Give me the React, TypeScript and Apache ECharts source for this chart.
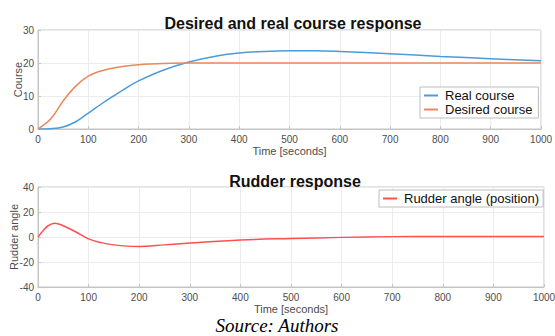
import React, { useEffect, useRef } from "react";
import * as echarts from "echarts";

const courseTime = [0, 25, 50, 75, 100, 125, 150, 175, 200, 250, 300, 350, 400, 450, 500, 550, 600, 700, 800, 900, 1000];
const realCourse = [0, 0.1, 0.6, 2.2, 4.8, 7.5, 10, 12.4, 14.6, 17.9, 20.3, 22, 23, 23.5, 23.7, 23.7, 23.5, 22.8, 22, 21.3, 20.7];
const desiredCourse = [0, 3, 8.5, 13, 16, 17.6, 18.5, 19.1, 19.5, 19.85, 20, 20, 20, 20, 20, 20, 20, 20, 20, 20, 20];

const rudderTime = [0, 10, 20, 33, 50, 75, 100, 125, 150, 175, 200, 250, 300, 400, 500, 600, 700, 800, 900, 1000];
const rudderAngle = [0, 5, 9, 11, 9, 4, -1.5, -4.5, -6.3, -7.3, -7.5, -6.3, -4.8, -2.4, -1.2, -0.3, 0.3, 0.5, 0.5, 0.5];

const xTicks = [0, 100, 200, 300, 400, 500, 600, 700, 800, 900, 1000];

const pair = (xs: number[], ys: number[]) => xs.map((x, i) => [x, ys[i]]);

const axisText = {
  color: "#4d4d4d",
  fontSize: 10,
  fontFamily: "Liberation Sans",
  formatter: (v: number) => String(v),
};

const makeX = (gridIndex: number) => ({
  type: "value",
  gridIndex,
  min: xTicks[0],
  max: xTicks[xTicks.length - 1],
  interval: 100,
  name: "Time [seconds]",
  nameLocation: "middle",
  nameGap: 16,
  nameTextStyle: { color: "#4d4d4d", fontSize: 11, fontFamily: "Liberation Sans" },
  axisLine: { show: true, onZero: false, lineStyle: { color: "#c4c4c4" } },
  axisTick: { show: true, inside: true, length: 3, lineStyle: { color: "#c4c4c4" } },
  axisLabel: { ...axisText, margin: 5 },
  splitLine: { show: true, lineStyle: { color: "#ececec" } },
});

const makeY = (gridIndex: number, min: number, max: number, interval: number, name: string, gap: number) => ({
  type: "value",
  gridIndex,
  min,
  max,
  interval,
  name,
  nameLocation: "middle",
  nameGap: gap,
  nameMoveOverlap: false,
  nameTextStyle: { color: "#4d4d4d", fontSize: 11, fontFamily: "Liberation Sans" },
  axisLine: { show: true, onZero: false, lineStyle: { color: "#c4c4c4" } },
  axisTick: { show: true, inside: true, length: 3, lineStyle: { color: "#c4c4c4" } },
  axisLabel: { ...axisText, margin: 4 },
  splitLine: { show: true, lineStyle: { color: "#ececec" } },
});

export default function App() {
  const ref = useRef<HTMLDivElement>(null);
  useEffect(() => {
    if (!ref.current) return;
    const chart = echarts.init(ref.current, undefined, { renderer: "svg" });
    chart.setOption({
      animation: false,
      backgroundColor: "#ffffff",
      title: [
        {
          text: "Desired and real course response",
          left: 288,
          top: 10,
          textAlign: "center",
          textStyle: { fontSize: 16, fontWeight: "bold", color: "#111", fontFamily: "Liberation Sans" },
        },
        {
          text: "Rudder response",
          left: 290,
          top: 168,
          textAlign: "center",
          textStyle: { fontSize: 16, fontWeight: "bold", color: "#111", fontFamily: "Liberation Sans" },
        },
      ],
      grid: [
        { left: 38, right: 14, top: 30, height: 99, show: true, borderColor: "#c4c4c4", borderWidth: 1, outerBoundsMode: "none", containLabel: false },
        { left: 38, right: 11, top: 187, height: 100, show: true, borderColor: "#c4c4c4", borderWidth: 1, outerBoundsMode: "none", containLabel: false },
      ],
      xAxis: [makeX(0), makeX(1)],
      yAxis: [makeY(0, 0, 30, 10, "Course", 15), makeY(1, -40, 40, 20, "Rudder angle", 19)],
      legend: [
        {
          data: ["Real course", "Desired course"],
          orient: "vertical",
          left: 420,
          top: 87,
          width: 116,
          padding: [2, 6, 2, 4],
          itemGap: 1,
          itemWidth: 14,
          itemHeight: 2,
          icon: "rect",
          backgroundColor: "#ffffff",
          borderColor: "#bdbdbd",
          borderWidth: 1,
          textStyle: { fontSize: 13, color: "#111", fontFamily: "Liberation Sans", padding: [0, 0, 0, 2] },
        },
        {
          data: ["Rudder angle (position)"],
          orient: "vertical",
          left: 379,
          top: 190,
          padding: [2, 4, 2, 4],
          itemWidth: 14,
          itemHeight: 2,
          icon: "rect",
          backgroundColor: "#ffffff",
          borderColor: "#bdbdbd",
          borderWidth: 1,
          textStyle: { fontSize: 13, color: "#111", fontFamily: "Liberation Sans", padding: [0, 0, 0, 2] },
        },
      ],
      series: [
        {
          name: "Real course",
          type: "line",
          xAxisIndex: 0,
          yAxisIndex: 0,
          data: pair(courseTime, realCourse),
          smooth: 0.4,
          showSymbol: false,
          color: "#4b9bd8",
          lineStyle: { width: 1.5, color: "#4b9bd8" },
        },
        {
          name: "Desired course",
          type: "line",
          xAxisIndex: 0,
          yAxisIndex: 0,
          data: pair(courseTime, desiredCourse),
          smooth: 0.4,
          showSymbol: false,
          color: "#ea875f",
          lineStyle: { width: 1.5, color: "#ea875f" },
        },
        {
          name: "Rudder angle (position)",
          type: "line",
          xAxisIndex: 1,
          yAxisIndex: 1,
          data: pair(rudderTime, rudderAngle),
          smooth: 0.4,
          showSymbol: false,
          color: "#ff5050",
          lineStyle: { width: 1.5, color: "#ff5050" },
        },
      ],
      graphic: [
        {
          type: "text",
          x: 277,
          y: 325,
          style: {
            text: "Source: Authors",
            font: "italic 19px 'Liberation Serif'",
            fill: "#000",
            textAlign: "center",
            textVerticalAlign: "middle",
          },
        },
      ],
    });
    return () => chart.dispose();
  }, []);
  return <div ref={ref} style={{ width: 555, height: 336, position: "absolute", left: 0, top: 0 }} />;
}
